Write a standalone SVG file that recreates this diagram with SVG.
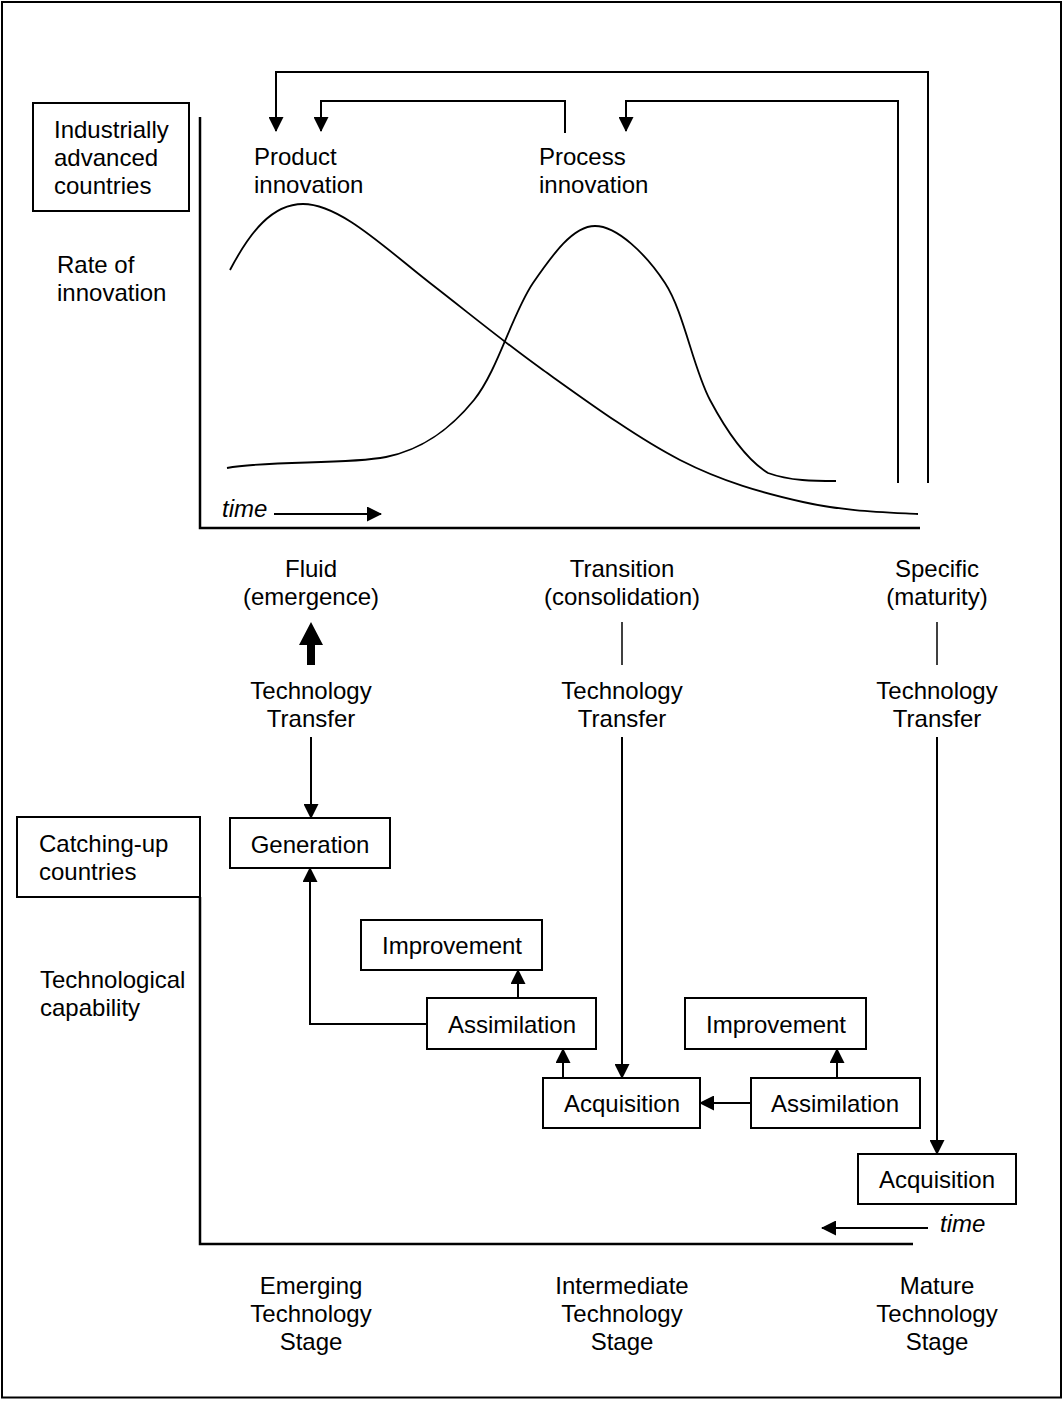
<svg xmlns="http://www.w3.org/2000/svg" width="1064" height="1401" viewBox="0 0 1064 1401">
<style>
text{font-family:"Liberation Sans",Arial,sans-serif;font-size:24px;fill:#000}
.c{text-anchor:middle}
.i{font-style:italic}
.box{fill:#fff;stroke:#000;stroke-width:2}
.ln{fill:none;stroke:#000;stroke-width:2}
.ax{fill:none;stroke:#000;stroke-width:2.5}
.thin{fill:none;stroke:#000;stroke-width:1.5}
.curve{fill:none;stroke:#000;stroke-width:1.8}
</style>
<defs>
<marker id="ah" viewBox="0 0 15 15" refX="14" refY="7.5" markerWidth="15" markerHeight="15" markerUnits="userSpaceOnUse" orient="auto">
<path d="M0,0 L15,7.5 L0,15 z" fill="#000"/>
</marker>
</defs>
<rect x="0" y="0" width="1064" height="1401" fill="#fff"/>
<rect x="2" y="2" width="1059" height="1395.5" fill="none" stroke="#000" stroke-width="2"/>

<g id="label-advanced">
<rect class="box" x="33" y="103" width="156" height="108"/>
<text x="54" y="138">Industrially</text>
<text x="54" y="166">advanced</text>
<text x="54" y="194">countries</text>
</g>
<g id="label-rate">
<text x="57" y="273">Rate of</text>
<text x="57" y="301">innovation</text>
</g>
<g id="label-product">
<text x="254" y="165">Product</text>
<text x="254" y="193">innovation</text>
</g>
<g id="label-process">
<text x="539" y="165">Process</text>
<text x="539" y="193">innovation</text>
</g>
<g id="curves">
<path class="curve" d="M230,270 C250,232 272,204 303,204 C340,204 385,248 430,283 C470,314 505,343 543,370 C585,400 637,438 680,460 C723,482 763,493 803,502 C843,511 880,512 918,514"/>
<path class="curve" d="M227,468 C270,460 345,465 386,457 C425,449 452,427 474,400 C498,370 512,314 533,283 C553,254 573,226 595,226 C617,226 646,254 665,283 C684,312 693,368 710,400 C727,432 747,460 768,473 C790,481 815,481 836,481"/>
</g>
<g id="axes">
<polyline class="ax" points="200,117 200,528 920,528"/>
<polyline class="ax" points="200,897 200,1244 913,1244"/>
</g>
<g id="time-top">
<text class="i" x="222" y="517">time</text>
</g>
<g id="time-bottom">
<text class="i" x="940" y="1232">time</text>
</g>

<g id="stage-fluid">
<text class="c" x="311" y="577">Fluid</text>
<text class="c" x="311" y="605">(emergence)</text>
</g>
<g id="stage-transition">
<text class="c" x="622" y="577">Transition</text>
<text class="c" x="622" y="605">(consolidation)</text>
</g>
<g id="stage-specific">
<text class="c" x="937" y="577">Specific</text>
<text class="c" x="937" y="605">(maturity)</text>
</g>
<g id="tt1">
<text class="c" x="311" y="699">Technology</text>
<text class="c" x="311" y="727">Transfer</text>
</g>
<g id="tt2">
<text class="c" x="622" y="699">Technology</text>
<text class="c" x="622" y="727">Transfer</text>
</g>
<g id="tt3">
<text class="c" x="937" y="699">Technology</text>
<text class="c" x="937" y="727">Transfer</text>
</g>

<g id="label-catching">
<rect class="box" x="17" y="817" width="183" height="80"/>
<text x="39" y="852">Catching-up</text>
<text x="39" y="880">countries</text>
</g>
<g id="label-capability">
<text x="40" y="988">Technological</text>
<text x="40" y="1016">capability</text>
</g>

<g id="generation">
<rect class="box" x="230" y="818" width="160" height="50"/>
<text class="c" x="310" y="853">Generation</text>
</g>
<g id="improvement1">
<rect class="box" x="361" y="920" width="181" height="50"/>
<text class="c" x="452" y="954">Improvement</text>
</g>
<g id="assimilation1">
<rect class="box" x="427" y="998" width="169" height="51"/>
<text class="c" x="512" y="1033">Assimilation</text>
</g>
<g id="acquisition1">
<rect class="box" x="543" y="1078" width="157" height="50"/>
<text class="c" x="622" y="1112">Acquisition</text>
</g>
<g id="improvement2">
<rect class="box" x="685" y="998" width="181" height="51"/>
<text class="c" x="776" y="1033">Improvement</text>
</g>
<g id="assimilation2">
<rect class="box" x="751" y="1078" width="169" height="50"/>
<text class="c" x="835" y="1112">Assimilation</text>
</g>
<g id="acquisition2">
<rect class="box" x="858" y="1154" width="158" height="50"/>
<text class="c" x="937" y="1188">Acquisition</text>
</g>

<g id="label-stages">
<text class="c" x="311" y="1294">Emerging</text>
<text class="c" x="311" y="1322">Technology</text>
<text class="c" x="311" y="1350">Stage</text>
<text class="c" x="622" y="1294">Intermediate</text>
<text class="c" x="622" y="1322">Technology</text>
<text class="c" x="622" y="1350">Stage</text>
<text class="c" x="937" y="1294">Mature</text>
<text class="c" x="937" y="1322">Technology</text>
<text class="c" x="937" y="1350">Stage</text>
</g>

<g id="connectors">
<polyline class="ln" points="928,483 928,72 276,72 276,131" marker-end="url(#ah)"/>
<polyline class="ln" points="565,133 565,101 321,101 321,131" marker-end="url(#ah)"/>
<polyline class="ln" points="898,483 898,101 626,101 626,131" marker-end="url(#ah)"/>
<line class="ln" x1="274" y1="514" x2="381" y2="514" marker-end="url(#ah)"/>
<line class="ln" x1="928" y1="1228" x2="822" y2="1228" marker-end="url(#ah)"/>
<polygon points="307,665 315,665 315,645 323,645 311,622 299,645 307,645" fill="#000"/>
<line class="thin" x1="622" y1="622" x2="622" y2="665"/>
<line class="thin" x1="937" y1="622" x2="937" y2="665"/>
<line class="ln" x1="311" y1="737" x2="311" y2="818" marker-end="url(#ah)"/>
<line class="ln" x1="622" y1="737" x2="622" y2="1078" marker-end="url(#ah)"/>
<line class="ln" x1="937" y1="737" x2="937" y2="1154" marker-end="url(#ah)"/>
<polyline class="ln" points="427,1024 310,1024 310,868" marker-end="url(#ah)"/>
<line class="ln" x1="518" y1="998" x2="518" y2="970" marker-end="url(#ah)"/>
<line class="ln" x1="563" y1="1078" x2="563" y2="1049" marker-end="url(#ah)"/>
<line class="ln" x1="837" y1="1078" x2="837" y2="1049" marker-end="url(#ah)"/>
<line class="ln" x1="751" y1="1103" x2="700" y2="1103" marker-end="url(#ah)"/>
</g>
</svg>
